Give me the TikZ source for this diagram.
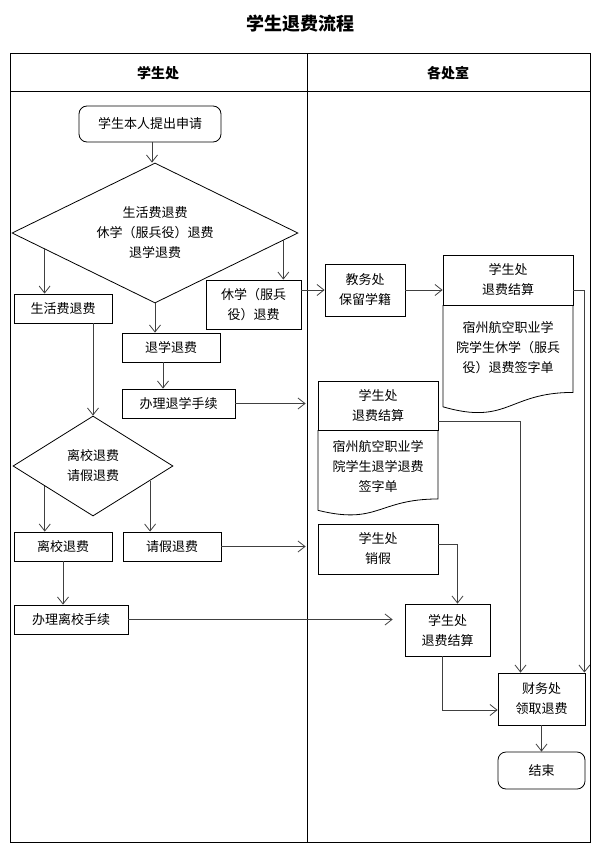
\documentclass[tikz,border=0pt]{standalone}
\usepackage{fontspec}
\setmainfont{Noto Sans CJK SC}
\usetikzlibrary{arrows.meta,shapes.geometric,calc}

% document shape: x0, y0, width, height
\newcommand\docshape[4]{%
  \draw[line width=0.8pt] (#1+#3,#2) -- (#1+#3,#2+0.802*#4)
    .. controls (#1+0.5*#3,#2+0.802*#4) and (#1+0.5*#3,#2+1.107*#4) .. (#1,#2+0.934*#4)
    -- (#1,#2);}

\begin{document}
\begin{tikzpicture}[x=1pt,y=-1pt,
  font=\fontsize{13}{20}\selectfont,
  box/.style={draw, line width=0.8pt, align=center, inner sep=0pt},
  rbox/.style={box, rounded corners=8pt},
  dia/.style={draw, line width=0.8pt, diamond, align=center, inner sep=0pt},
  arr/.style={draw=black!75, line width=0.8pt, -{Straight Barb[length=7pt,width=11pt]}}]

\useasboundingbox (0,0) rectangle (598,850);

\node[font=\fontsize{18}{22}\selectfont\bfseries] (title) at (300,24) {学生退费流程};

\draw[line width=1pt] (10,54) rectangle (590,842);
\draw[line width=1pt] (10,92) -- (590,92);
\draw[line width=1pt] (307,54) -- (307,842);
\node[font=\fontsize{14}{18}\selectfont\bfseries] (lane1) at (158,73) {学生处};
\node[font=\fontsize{14}{18}\selectfont\bfseries] (lane2) at (448,73) {各处室};

% left lane
\node[rbox, minimum width=142pt, minimum height=36pt] (sq) at (150,124) {学生本人提出申请};
\node[dia, minimum width=286pt, minimum height=140pt, aspect=2] (d1) at (155,233) {生活费退费\\休学（服兵役）退费\\退学退费};
\node[box, minimum width=98pt, minimum height=29pt] (shf) at (63,308.5) {生活费退费};
\node[box, minimum width=95pt, minimum height=49pt] (xx) at (253.5,304.5) {休学（服兵\\役）退费};
\node[box, minimum width=98pt, minimum height=29pt] (txf) at (171,347.5) {退学退费};
\node[box, minimum width=113pt, minimum height=29pt] (blt) at (178.5,403.5) {办理退学手续};
\node[dia, minimum width=160pt, minimum height=100pt, aspect=1.6] (d2) at (93,466) {离校退费\\请假退费};
\node[box, minimum width=98pt, minimum height=29pt] (lxf) at (63,546.5) {离校退费};
\node[box, minimum width=98pt, minimum height=29pt] (qjf) at (172,546.5) {请假退费};
\node[box, minimum width=114pt, minimum height=29pt] (blx) at (71,619.5) {办理离校手续};

% right lane
\node[box, minimum width=80pt, minimum height=52pt] (jy) at (365,290) {教务处\\保留学籍};
\node[box, minimum width=130pt, minimum height=50pt] (jsA) at (508,280) {学生处\\退费结算};
\node[align=center] (qdA) at (508,348) {宿州航空职业学\\院学生休学（服兵\\役）退费签字单};
\docshape{443}{305}{130}{109}
\node[box, minimum width=120pt, minimum height=49pt] (jsB) at (378,405.5) {学生处\\退费结算};
\node[align=center] (qdB) at (378,466) {宿州航空职业学\\院学生退学退费\\签字单};
\docshape{318}{430}{120}{86}
\node[box, minimum width=120pt, minimum height=50pt] (xj) at (378,549) {学生处\\销假};
\node[box, minimum width=85pt, minimum height=52pt] (jsD) at (447.5,630) {学生处\\退费结算};
\node[box, minimum width=87pt, minimum height=52pt] (cw) at (541.5,699) {财务处\\领取退费};
\node[rbox, minimum width=87pt, minimum height=37pt] (end) at (541.5,770.5) {结束};

\coordinate (d1l) at ($(d1.west)!.23!(d1.south)$);
\coordinate (d1r) at ($(d1.east)!.105!(d1.south)$);
\coordinate (d2l) at ($(d2.west)!.4!(d2.south)$);
\coordinate (d2r) at ($(d2.east)!.29!(d2.south)$);

\draw[arr] ([xshift=2pt]sq.south) -- ([xshift=2pt]sq.south |- d1.north);
\draw[arr] (d1l) -- (d1l |- shf.north);
\draw[arr] (d1r) -- (d1r |- xx.north);
\draw[arr] (d1.south) -- (d1.south |- txf.north);
\draw[arr] (d2.north |- shf.south) -- (d2.north);
\draw[arr] ([xshift=-8pt]txf.south) -- ([xshift=-8pt]txf.south |- blt.north);
\draw[arr] (d2l) -- (d2l |- lxf.north);
\draw[arr] (d2r) -- (d2r |- qjf.north);
\draw[arr] (lxf.south) -- (lxf.south |- blx.north);

\draw[arr, shorten >=12pt] (blt.east) -- (blt.east -| jsB.west);
\draw[arr, shorten >=12pt] (qjf.east) -- (qjf.east -| xj.west);
\draw[arr, shorten >=12pt] (blx.east) -- (blx.east -| jsD.west);
\draw[arr] (jy.west -| xx.east) -- (jy.west);
\draw[arr] (jy.east) -- (jy.east -| jsA.west);

\draw[arr] (jy.east -| jsA.east) -| ([xshift=-1pt]cw.north east);
\draw[arr] ([yshift=-16pt]jsB.east) -| ([xshift=-21pt]cw.north);
\draw[arr] ([yshift=5pt]xj.east) -| ([xshift=10pt]jsD.north);
\draw[arr] ([xshift=-5pt]jsD.south) |- ([yshift=-11pt]cw.west);
\draw[arr] (cw) -- (end);

\end{tikzpicture}
\end{document}
